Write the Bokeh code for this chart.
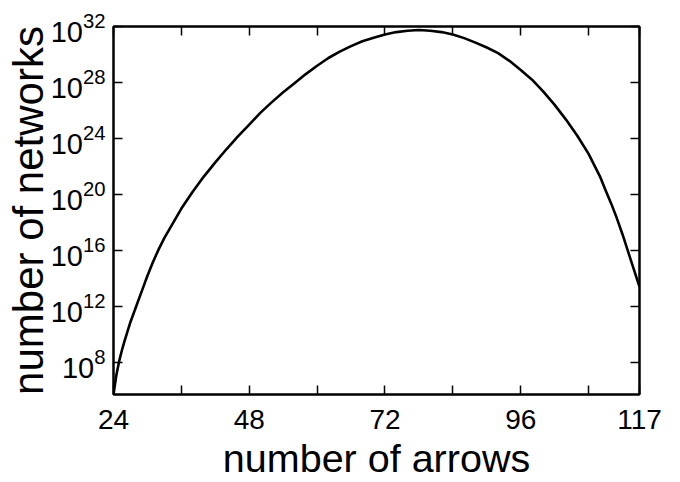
from bokeh.plotting import figure
from bokeh.models import Range1d, FixedTicker, LinearAxis, LogAxis
from bokeh.embed import file_html
from bokeh.resources import INLINE

# data
arrows = [24, 24.5, 25, 25.5, 26, 27, 28, 29, 30, 31, 32, 33, 34, 35, 36, 38, 40,
          42, 44, 46, 48, 50, 52, 54, 56, 58, 60, 62, 64, 66, 68, 70, 72, 74, 76,
          78, 80, 82, 84, 86, 88, 90, 92, 94, 96, 98, 100, 102, 104, 106, 108,
          110, 111, 112, 113, 114, 115, 116, 117]
log10_networks = [5.72, 7.1, 8.1, 8.9, 9.6, 10.9, 12.0, 13.1, 14.2, 15.2, 16.1,
                  16.9, 17.6, 18.3, 19.0, 20.2, 21.3, 22.3, 23.25, 24.15, 25.0,
                  25.85, 26.6, 27.3, 27.95, 28.6, 29.2, 29.75, 30.2, 30.6, 30.95,
                  31.2, 31.43, 31.6, 31.7, 31.75, 31.7, 31.6, 31.43, 31.17, 30.85,
                  30.5, 30.1, 29.55, 28.9, 28.2, 27.35, 26.4, 25.35, 24.2, 22.9,
                  21.3, 20.3, 19.35, 18.3, 17.15, 15.9, 14.65, 13.4]
networks = [10.0 ** v for v in log10_networks]

x_ticks = [24, 36, 48, 60, 72, 84, 96, 108, 117]
x_labelled = [24, 48, 72, 96, 117]
y_tick_exponents = [8, 12, 16, 20, 24, 28, 32]
y_ticks = [10.0 ** e for e in y_tick_exponents]
y_top_exponent = 32

FONT = "Liberation Sans"

p = figure(width=680, height=482, output_backend="svg", toolbar_location=None,
           y_axis_type="log",
           x_range=Range1d(arrows[0], arrows[-1]),
           y_range=Range1d(networks[0], 10.0 ** y_top_exponent),
           min_border_left=113, min_border_right=41,
           min_border_top=26, min_border_bottom=88)
p.grid.visible = False
p.outline_line_color = "black"
p.outline_line_width = 2
p.background_fill_color = "white"
p.border_fill_color = "white"

p.line(arrows, networks, line_color="black", line_width=2.6)


def style(ax):
    ax.major_tick_in = 9
    ax.major_tick_out = 0
    ax.minor_tick_line_color = None
    ax.axis_line_width = 2
    ax.major_tick_line_width = 1.5
    ax.major_label_text_font = FONT
    ax.major_label_text_color = "black"
    ax.axis_label_text_font = FONT
    ax.axis_label_text_font_style = "normal"
    ax.axis_label_text_color = "black"


xa = p.xaxis[0]
xa.ticker = FixedTicker(ticks=x_ticks)
xa.major_label_overrides = {t: "" for t in x_ticks if t not in x_labelled}
style(xa)
xa.major_label_text_font_size = "28px"
xa.major_label_standoff = 15
xa.axis_label = "number of arrows"
xa.axis_label_text_font_size = "39.5px"
xa.axis_label_standoff = 4

ya = p.yaxis[0]
ya.ticker = FixedTicker(ticks=y_ticks)
style(ya)
ya.major_label_text_font_size = "29px"
ya.major_label_standoff = 8
ya.axis_label = "number of networks"
ya.axis_label_text_font_size = "42px"
ya.axis_label_standoff = -4

top = LinearAxis(ticker=FixedTicker(ticks=x_ticks))
style(top)
top.major_label_overrides = {t: "" for t in x_ticks}
top.major_label_text_font_size = "8px"
top.major_label_standoff = 0
p.add_layout(top, "above")

right = LogAxis(ticker=FixedTicker(ticks=y_ticks))
style(right)
right.major_label_overrides = {t: "" for t in y_ticks}
right.major_label_text_font_size = "8px"
right.major_label_standoff = 0
p.add_layout(right, "right")

open("out.html", "w").write(file_html(p, INLINE))
